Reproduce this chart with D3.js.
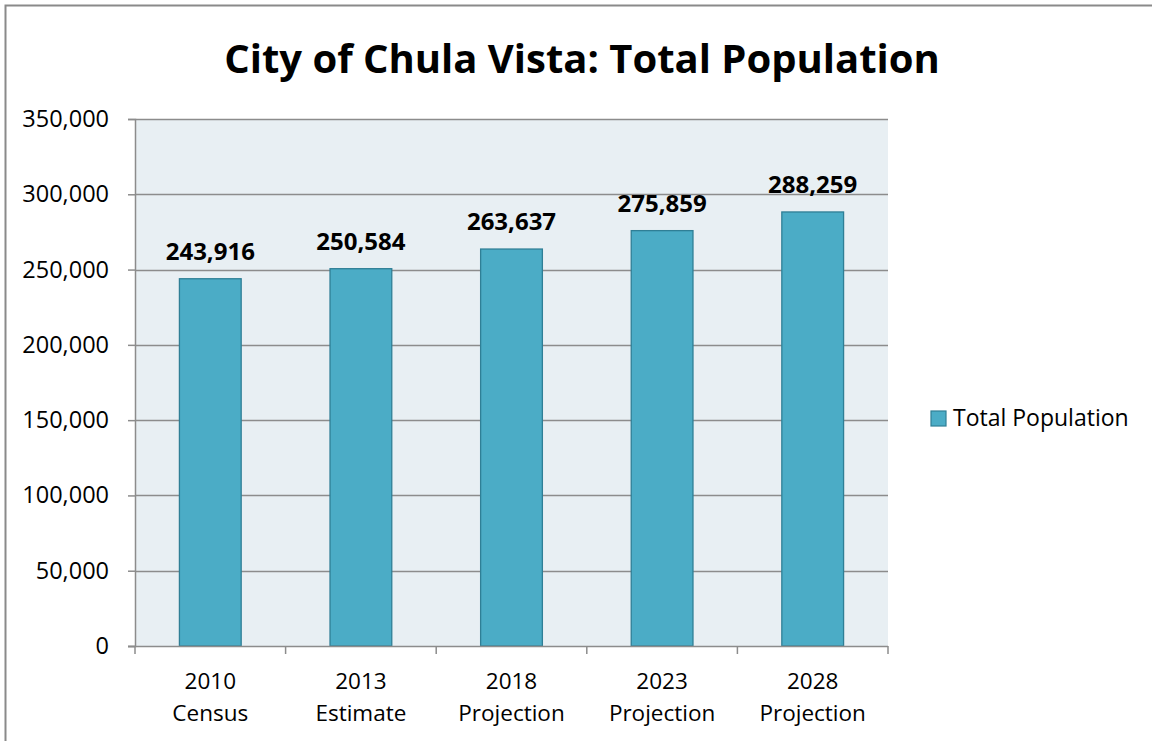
<!DOCTYPE html>
<html>
<head>
<meta charset="utf-8">
<script src="https://cdn.jsdelivr.net/npm/d3@7"></script>
<style>
  html, body { margin: 0; padding: 0; background: #ffffff; }
  svg { display: block; }
  text { font-family: "Open Sans", "Noto Sans", sans-serif; }
</style>
</head>
<body>
<svg id="chart" width="1152" height="741"></svg>
<script>
// Population figures for the City of Chula Vista
const categoryYears = ["2010", "2013", "2018", "2023", "2028"];
const categoryKinds = ["Census", "Estimate", "Projection", "Projection", "Projection"];
const populationValues = [243916, 250584, 263637, 275859, 288259];
const yTickValues = [0, 50000, 100000, 150000, 200000, 250000, 300000, 350000];
const seriesName = "Total Population";
const chartTitle = "City of Chula Vista: Total Population";

const svg = d3.select("#chart");
const W = 1152, H = 741;
const plot = { left: 135, right: 888, top: 119, bottom: 646 };

const barFill = "#4bacc6";
const barStroke = "#2f7f96";
const gridColor = "#8c8c8c";

// Outer chart frame
svg.append("rect")
  .attr("x", 5.5).attr("y", 5.5)
  .attr("width", W + 20).attr("height", H + 20)
  .attr("fill", "#ffffff")
  .attr("stroke", "#8a8a8a").attr("stroke-width", 2);

const x = d3.scaleBand()
  .domain(d3.range(categoryYears.length))
  .range([plot.left, plot.right])
  .paddingInner(0.59).paddingOuter(0.295);

const y = d3.scaleLinear()
  .domain([0, 350000])
  .range([plot.bottom, plot.top]);

// Plot background
svg.append("rect")
  .attr("x", plot.left).attr("y", plot.top)
  .attr("width", plot.right - plot.left).attr("height", plot.bottom - plot.top)
  .attr("fill", "#e8eff3");

// Horizontal gridlines
svg.append("g")
  .selectAll("line")
  .data(yTickValues.filter(v => v > 0))
  .join("line")
  .attr("x1", plot.left).attr("x2", plot.right)
  .attr("y1", d => Math.round(y(d)) + 0.5).attr("y2", d => Math.round(y(d)) + 0.5)
  .attr("stroke", gridColor).attr("stroke-width", 1.5);

// Y axis
const fmt = d3.format(",");
const yAxis = svg.append("g")
  .attr("transform", `translate(${plot.left},0)`)
  .call(d3.axisLeft(y).tickValues(yTickValues).tickFormat(fmt).tickSize(7).tickPadding(19));
yAxis.select(".domain").attr("stroke", gridColor).attr("stroke-width", 1.5);
yAxis.selectAll(".tick line").attr("stroke", gridColor).attr("stroke-width", 1.5);
yAxis.selectAll(".tick text")
  .attr("fill", "#000").attr("font-size", 23.5)
  .attr("font-family", "'Open Sans', sans-serif");

// Bars
svg.append("g")
  .selectAll("rect")
  .data(populationValues)
  .join("rect")
  .attr("x", (d, i) => x(i))
  .attr("y", d => y(d))
  .attr("width", x.bandwidth())
  .attr("height", d => y(0) - y(d))
  .attr("fill", barFill)
  .attr("stroke", barStroke).attr("stroke-width", 1.3);

// X axis line and category separators
const xAxisG = svg.append("g");
xAxisG.append("line")
  .attr("x1", plot.left - 7).attr("x2", plot.right)
  .attr("y1", plot.bottom + 0.5).attr("y2", plot.bottom + 0.5)
  .attr("stroke", gridColor).attr("stroke-width", 1.5);
xAxisG.selectAll("line.sep")
  .data(d3.range(categoryYears.length + 1))
  .join("line")
  .attr("class", "sep")
  .attr("x1", i => plot.left + i * (plot.right - plot.left) / categoryYears.length)
  .attr("x2", i => plot.left + i * (plot.right - plot.left) / categoryYears.length)
  .attr("y1", plot.bottom).attr("y2", plot.bottom + 8)
  .attr("stroke", gridColor).attr("stroke-width", 1.5);

// Category labels (two lines)
const catLabels = svg.append("g")
  .selectAll("text")
  .data(categoryYears)
  .join("text")
  .attr("text-anchor", "middle")
  .attr("font-size", 22.5)
  .attr("fill", "#000");
catLabels.append("tspan")
  .attr("x", (d, i) => x(i) + x.bandwidth() / 2)
  .attr("y", 689)
  .text(d => d);
catLabels.append("tspan")
  .attr("x", (d, i) => x(i) + x.bandwidth() / 2)
  .attr("y", 721)
  .text((d, i) => categoryKinds[i]);

// Value labels
svg.append("g")
  .selectAll("text")
  .data(populationValues)
  .join("text")
  .attr("x", (d, i) => x(i) + x.bandwidth() / 2)
  .attr("y", d => y(d) - 19)
  .attr("text-anchor", "middle")
  .attr("font-size", 24)
  .attr("font-weight", "bold")
  .attr("fill", "#000")
  .text(d => fmt(d));

// Title
svg.append("text")
  .attr("x", 582).attr("y", 73)
  .attr("text-anchor", "middle")
  .attr("font-size", 40)
  .attr("font-weight", "bold")
  .attr("fill", "#000")
  .text(chartTitle);

// Legend
const legend = svg.append("g").attr("transform", "translate(931,411)");
legend.append("rect")
  .attr("x", 0).attr("y", 0).attr("width", 15).attr("height", 15)
  .attr("fill", barFill).attr("stroke", barStroke).attr("stroke-width", 1.2);
legend.append("text")
  .attr("x", 22).attr("y", 15)
  .attr("font-size", 23)
  .attr("fill", "#000")
  .text(seriesName);
</script>
</body>
</html>
